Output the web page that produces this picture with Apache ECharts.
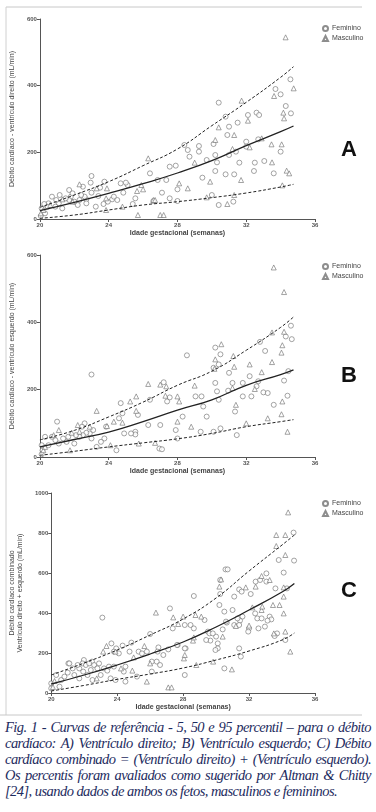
<!DOCTYPE html>
<html>
<head>
<meta charset="utf-8">
<script src="https://cdn.jsdelivr.net/npm/echarts@6/dist/echarts.min.js"></script>
<style>
html,body{margin:0;padding:0;background:#fff;}
#wrap{position:relative;width:376px;height:812px;overflow:hidden;}
#chartmain{position:absolute;left:0;top:0;width:376px;height:716px;}
#caption{position:absolute;left:5px;top:719px;width:366px;font-family:"Liberation Serif","DejaVu Serif",serif;font-style:italic;font-size:14.5px;letter-spacing:-0.55px;line-height:16px;color:#1d2b5e;}
#caption .j{text-align:justify;text-align-last:justify;white-space:nowrap;}
</style>
</head>
<body>
<div id="wrap">
<div id="chartmain"></div>
<div id="caption">
<div class="j">Fig. 1 - Curvas de referência - 5, 50 e 95 percentil – para o débito</div>
<div class="j">cardíaco: A) Ventrículo direito; B) Ventrículo esquerdo; C) Débito</div>
<div class="j">cardíaco combinado = (Ventrículo direito) + (Ventrículo esquerdo).</div>
<div class="j">Os percentis foram avaliados como sugerido por Altman &amp; Chitty</div>
<div>[24], usando dados de ambos os fetos, masculinos e femininos.</div>
</div>
</div>
<script>
// semanas usadas nas curvas de percentil
var curveWeeks=[20,22,24,26,28,30,32,34,34.75];
// A) ventrículo direito
var p5A=[2,12,27,42,52,64,78,96,104];
var p50A=[25,50,77,106,138,175,220,262,279];
var p95A=[35,72,112,160,210,280,350,425,457];
var femA=[[34.57,419],[33.7,390],[34.0,374],[34.3,339],[34.6,317],[30.4,349],[30.8,307],[31.0,277],[31.5,289],[32.1,312],[32.6,319],[32.75,312],[30.9,252],[32.7,239],[32.0,232],[30.1,225],[29.25,219],[28.4,222],[29.25,202],[28.6,207],[28.7,187],[29.7,177],[30.2,192],[30.3,170],[31.6,169],[32.5,169],[33.05,174],[33.6,137],[32.45,144],[30.8,134],[31.3,134],[29.45,124],[27.35,117],[27.55,157],[27.9,160],[26.85,117],[26.4,137],[27.1,79],[26.6,54],[28.0,89],[28.0,54],[30.0,72],[30.4,42],[31.25,52],[27.55,62],[25.55,62],[25.4,45],[25.1,102],[25.0,109],[24.85,79],[24.7,107],[24.5,57],[24.2,59],[24.3,67],[23.75,112],[23.5,94],[23.4,69],[23.25,37],[22.95,109],[23.0,129],[23.0,79],[22.7,59],[22.6,67],[22.7,47],[22.5,97],[22.4,72],[22.3,57],[22.2,42],[22.0,52],[21.8,67],[21.7,57],[21.5,62],[21.3,32],[21.1,47],[20.95,57],[20.9,37],[20.7,67],[20.5,47],[20.45,37],[20.25,45],[20.1,32],[20.05,9],[20.3,17],[21.7,87],[21.9,77],[21.15,72],[30.2,144],[23.95,52],[23.7,45],[31.0,192],[32.0,217],[31.4,202],[34.0,202]];
var mascA=[[34.29,545],[33.62,369],[34.76,392],[31.73,355],[34.16,319],[34.2,302],[32.1,295],[30.4,275],[31.3,252],[34.06,224],[33.47,224],[32.2,215],[31.2,210],[32.9,242],[30.2,237],[29.0,169],[33.5,170],[34.35,145],[34.5,137],[31.7,117],[29.9,112],[28.1,107],[28.6,92],[34.1,101],[31.3,72],[30.9,45],[29.7,65],[26.3,182],[25.9,102],[25.65,84],[25.7,12],[27.0,12],[27.2,12],[26.6,57],[26.7,57],[24.8,37],[23.85,27],[23.85,62],[23.9,92],[23.3,92],[22.3,104],[21.3,59],[21.9,52],[20.6,42],[20.2,27],[20.05,17],[26.0,89]];
// B) ventrículo esquerdo
var p5B=[5,17,30,42,54,70,90,105,111];
var p50B=[30,52,74,105,139,170,213,245,259];
var p95B=[51,79,119,163,213,255,317,385,416];
var femB=[[23.0,245],[28.55,302],[30.2,325],[30.5,305],[30.4,275],[30.1,265],[34.6,390],[34.65,350],[34.3,358],[32.8,342],[33.1,315],[34.2,227],[34.4,182],[34.45,255],[33.6,155],[33.0,192],[32.3,180],[32.6,210],[32.2,240],[31.8,220],[31.8,180],[31.2,220],[31.0,250],[30.95,197],[30.4,170],[30.3,195],[30.2,220],[31.35,135],[31.45,65],[30.5,85],[30.1,75],[29.7,120],[29.5,150],[29.4,180],[29.05,180],[28.3,120],[27.9,80],[28.0,55],[29.35,75],[27.55,177],[27.4,165],[27.2,222],[27.0,95],[26.4,170],[26.3,95],[26.95,25],[27.1,23],[25.7,125],[25.55,75],[25.55,67],[25.3,70],[24.7,160],[24.8,130],[24.9,70],[24.6,115],[24.45,20],[23.85,90],[23.75,55],[23.55,45],[23.3,30],[23.0,55],[22.9,70],[22.7,72],[22.6,100],[22.5,65],[22.3,60],[22.1,65],[22.0,40],[21.65,60],[21.55,45],[21.35,55],[21.1,40],[21.0,105],[20.9,50],[20.7,60],[20.5,35],[20.3,60],[20.15,20],[20.1,8],[20.1,35],[23.1,80],[22.45,90],[33.25,190],[32.7,225]];
var mascB=[[33.6,563],[34.2,490],[34.2,372],[33.5,370],[34.1,332],[34.05,310],[33.5,282],[32.2,275],[32.9,252],[31.3,268],[31.25,300],[30.55,335],[30.15,262],[30.2,290],[29.0,212],[28.0,180],[28.1,165],[27.35,210],[27.0,215],[27.3,182],[26.3,217],[25.6,180],[25.25,165],[25.6,137],[24.8,102],[24.3,105],[23.9,92],[23.3,137],[22.9,90],[22.2,95],[22.3,75],[21.85,72],[21.1,80],[20.8,65],[21.75,20],[24.1,35],[25.75,40],[26.7,42],[28.0,105],[28.8,90],[32.0,100],[33.25,115],[34.05,127],[34.1,165],[34.4,75],[32.5,202],[31.2,205],[31.4,155],[20.2,20],[20.3,30]];
// C) débito combinado
var p5C=[10,38,68,95,125,165,210,265,300];
var p50C=[45,90,140,195,255,330,415,505,548];
var p95C=[90,150,215,290,370,475,610,740,790];
var femC=[[34.7,802],[34.73,662],[33.8,665],[34.1,602],[34.3,523],[30.57,618],[30.7,618],[30.25,565],[30.25,495],[30.2,440],[30.5,407],[31.1,482],[31.4,518],[31.55,507],[32.1,495],[32.4,557],[33.05,557],[33.05,598],[32.67,565],[33.6,523],[33.25,382],[33.35,368],[32.96,332],[32.5,373],[31.6,382],[31.45,362],[31.4,340],[31.0,415],[30.65,352],[30.4,318],[30.0,282],[30.1,248],[29.5,307],[29.6,298],[29.65,262],[28.65,485],[27.2,423],[27.37,323],[28.1,340],[27.67,240],[28.15,223],[27.1,218],[26.5,228],[26.45,207],[26.0,295],[24.86,252],[24.33,237],[23.94,223],[23.8,207],[23.1,377],[23.65,248],[22.47,157],[21.98,165],[21.7,123],[21.04,148],[31.3,373],[32.37,398],[32.76,373],[33.12,362],[32.57,323],[32.0,323],[31.95,307],[31.1,340],[30.6,357],[29.8,298],[29.4,265],[30.1,223],[29.96,215],[31.4,223],[31.5,182],[30.5,123],[28.1,223],[27.63,240],[29.3,365],[28.45,340],[28.65,323],[33.7,298],[33.55,285],[34.2,265],[28.1,90],[20.0,48],[20.0,23],[20.3,90],[20.5,32],[20.6,65],[20.8,82],[21.0,102],[21.1,148],[21.3,123],[21.4,90],[21.6,140],[21.7,73],[21.9,148],[21.94,107],[22.1,140],[22.2,90],[22.3,148],[22.4,115],[22.5,65],[22.6,140],[22.8,123],[22.9,148],[23.0,90],[23.2,123],[23.4,112],[23.5,132],[23.6,73],[23.8,132],[24.1,198],[24.4,107],[24.5,132],[24.75,207],[25.3,207],[25.5,198],[25.8,207],[26.1,157],[26.4,157],[26.6,140],[26.8,190],[26.1,107],[24.5,57],[23.9,65],[25.2,82]];
var mascC=[[34.37,903],[33.65,790],[34.2,790],[33.65,735],[34.2,690],[32.76,585],[33.25,565],[31.8,528],[32.4,532],[34.1,528],[34.1,482],[34.1,398],[34.2,307],[34.5,207],[33.85,440],[32.2,428],[32.76,415],[31.2,335],[32.0,337],[30.2,532],[30.3,568],[26.35,402],[27.4,378],[27.7,345],[28.0,382],[28.75,390],[29.1,382],[28.6,262],[28.05,173],[26.0,148],[25.65,235],[23.35,235],[23.15,207],[23.9,207],[25.0,178],[24.23,123],[24.92,112],[22.76,73],[25.8,57],[27.1,28],[27.3,28],[28.1,190],[28.65,278],[30.4,282],[29.82,157],[30.96,118],[32.8,432],[33.45,440],[33.5,298],[28.8,140],[20.1,30],[20.2,60]];

var yNames=["Débito cardíaco - ventrículo direito (mL/min)","Débito cardíaco - ventrículo esquerdo (mL/min)","Débito cardíaco combinado\nVentrículo direito + esquerdo (mL/min)"];
var yMax=[600,600,1000];
var letters=["A","B","C"];

var fnt="Liberation Sans";
var axisCol="#555";

function pairs(vals){
	return curveWeeks.map(function(w,i){return [w,vals[i]];});
}
function plain(v){return String(v);}
function xAxisOpt(i){
	return {
		type:'value',gridIndex:i,min:20,max:36,interval:4,
		name:'Idade gestacional (semanas)',nameLocation:'middle',nameGap:11,
		nameTextStyle:{fontFamily:fnt,fontSize:7,fontWeight:'bold',color:'#444'},
		axisLine:{lineStyle:{color:axisCol,width:1}},
		axisTick:{length:3,lineStyle:{color:axisCol}},
		axisLabel:{fontFamily:fnt,fontSize:6,fontWeight:'bold',color:'#555',margin:3,formatter:plain},
		splitLine:{show:false}
	};
}
function yAxisOpt(i){
	return {
		type:'value',gridIndex:i,min:0,max:yMax[i],interval:200,
		name:yNames[i],nameLocation:'middle',nameGap:i==2?13:16,
		nameTextStyle:{fontFamily:fnt,fontSize:7,color:'#444',lineHeight:8},
		axisLine:{show:true,lineStyle:{color:axisCol,width:1}},
		axisTick:{show:true,length:3,lineStyle:{color:axisCol}},
		axisLabel:{fontFamily:fnt,fontSize:6,fontWeight:'bold',color:'#555',margin:3,formatter:plain},
		splitLine:{show:false}
	};
}
function scatterS(name,sym,data,i){
	return {
		name:name,type:'scatter',xAxisIndex:i,yAxisIndex:i,symbol:sym,symbolSize:5,
		itemStyle:{color:'#fff',borderColor:'#707070',borderWidth:0.8},
		data:data,z:2
	};
}
function lineS(data,dashed,i){
	return {
		type:'line',xAxisIndex:i,yAxisIndex:i,smooth:true,showSymbol:false,silent:true,
		lineStyle:{color:'#222',width:dashed?1:1.3,type:dashed?[3,2]:'solid'},
		data:pairs(data),z:3
	};
}

var grids=[
	{left:34,top:19,width:281,height:200},
	{left:34,top:255,width:281,height:202},
	{left:43,top:493,width:272,height:200}
];
var legendTops=[20,258,495];
var femAll=[femA,femB,femC],mascAll=[mascA,mascB,mascC];
var pAll=[[p5A,p50A,p95A],[p5B,p50B,p95B],[p5C,p50C,p95C]];

var xAxes=[],yAxes=[],series=[],legends=[],graphics=[];
for(var i=0;i<3;i++){
	xAxes.push(xAxisOpt(i));
	yAxes.push(yAxisOpt(i));
	series.push(scatterS('Feminino','circle',femAll[i],i));
	series.push(scatterS('Masculino','triangle',mascAll[i],i));
	series.push(lineS(pAll[i][0],true,i));
	series.push(lineS(pAll[i][1],false,i));
	series.push(lineS(pAll[i][2],true,i));
	legends.push({
		left:317,top:legendTops[i],orient:'vertical',itemWidth:5,itemHeight:5,itemGap:3,
		selectedMode:false,data:['Feminino','Masculino'],
		textStyle:{fontFamily:fnt,fontSize:7,color:'#444',padding:[0,0,0,-1]}
	});
	graphics.push({
		type:'text',left:341,top:[139,365,580][i],
		style:{text:letters[i],font:'bold 22px "Liberation Sans"',fill:'#111'}
	});
}
// moldura da figura
graphics.push({type:'line',shape:{x1:6,y1:7,x2:362,y2:7},style:{stroke:'#c8c8c8',lineWidth:1}});
graphics.push({type:'line',shape:{x1:6,y1:7,x2:6,y2:715},style:{stroke:'#d0d0d0',lineWidth:1}});
graphics.push({type:'line',shape:{x1:0,y1:715,x2:362,y2:715},style:{stroke:'#c8c8c8',lineWidth:1}});

var option={
	animation:false,
	backgroundColor:'#fff',
	grid:grids,
	xAxis:xAxes,
	yAxis:yAxes,
	legend:legends,
	series:series,
	graphic:graphics
};
var myChart=echarts.init(document.getElementById('chartmain'));
myChart.setOption(option);
</script>
</body>
</html>
